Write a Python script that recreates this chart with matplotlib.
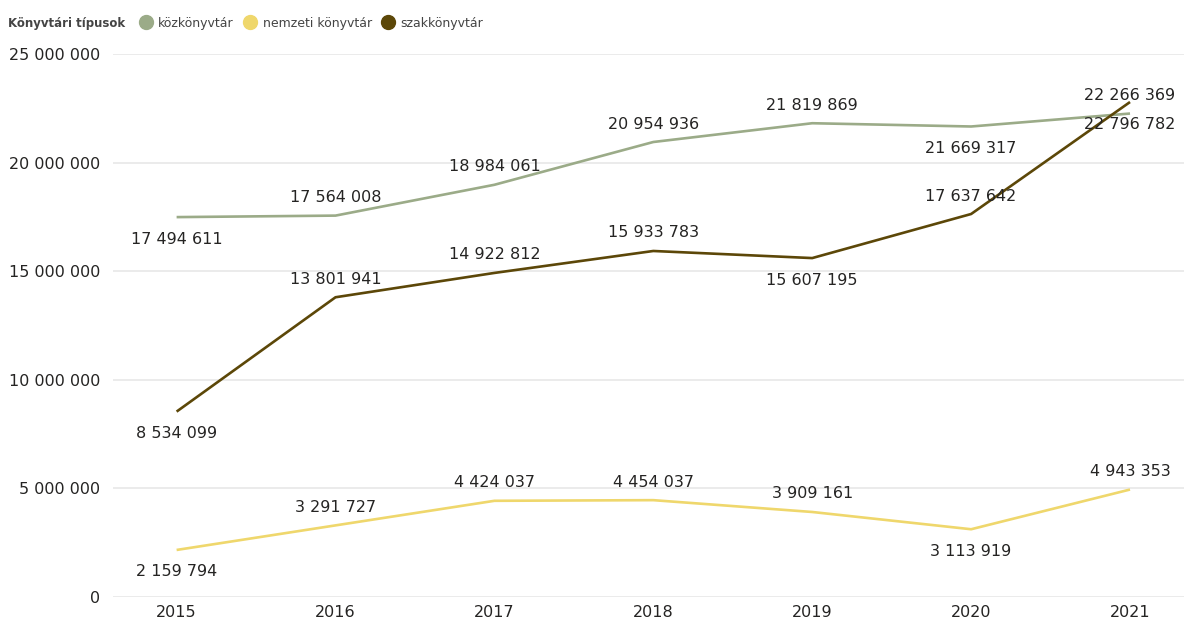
import matplotlib
matplotlib.use("Agg")
import matplotlib.pyplot as plt
from matplotlib.lines import Line2D
from matplotlib.ticker import FuncFormatter

# Data
YEARS = [2015, 2016, 2017, 2018, 2019, 2020, 2021]
KOZ = [17494611, 17564008, 18984061, 20954936, 21819869, 21669317, 22266369]
NEMZETI = [2159794, 3291727, 4424037, 4454037, 3909161, 3113919, 4943353]
SZAK = [8534099, 13801941, 14922812, 15933783, 15607195, 17637642, 22796782]

# label above (1) or below (-1) the point
KOZ_POS = [-1, 1, 1, 1, 1, -1, 1]
NEMZETI_POS = [-1, 1, 1, 1, 1, -1, 1]
SZAK_POS = [-1, 1, 1, 1, -1, 1, -1]

SERIES = [
    ("közkönyvtár", KOZ, KOZ_POS, "#9BAB88"),
    ("nemzeti könyvtár", NEMZETI, NEMZETI_POS, "#EFD76C"),
    ("szakkönyvtár", SZAK, SZAK_POS, "#5C4708"),
]

TEXT = "#252423"
plt.rcParams["font.family"] = ["DejaVu Sans"]


def fmt(v):
    return f"{int(v):,}".replace(",", " ")


fig = plt.figure(figsize=(11.9, 6.23), dpi=100)
ax = fig.add_axes([0.095, 0.042, 0.9, 0.871])

for name, vals, pos, color in SERIES:
    ax.plot(YEARS, vals, color=color, linewidth=1.9, solid_capstyle="butt")
    for x, y, p in zip(YEARS, vals, pos):
        ax.annotate(fmt(y), (x, y), xytext=(0, 18 * p + (-4 if p < 0 else 0)),
                    textcoords="offset pixels", ha="center", va="center",
                    fontsize=11.5, color=TEXT)

ax.set_ylim(0, 25000000)
ax.set_xlim(2014.6, 2021.34)
ax.set_yticks(range(0, 25000001, 5000000))
ax.yaxis.set_major_formatter(FuncFormatter(lambda v, _: fmt(v)))
ax.set_xticks(YEARS)
ax.tick_params(axis="both", length=0, labelsize=11.5, labelcolor=TEXT)
ax.tick_params(axis="y", pad=9)
ax.tick_params(axis="x", pad=6)
ax.grid(axis="y", color="#E8E8E8", linewidth=1.2)
ax.set_axisbelow(True)
for s in ax.spines.values():
    s.set_visible(False)

# legend
fig.text(0.007, 0.963, "Könyvtári típusok", fontsize=8.5, fontweight="bold",
         color="#444444", va="center", ha="left")
handles = [Line2D([], [], marker="o", linestyle="none", markersize=10,
                  markerfacecolor=c, markeredgecolor=c) for _, _, _, c in SERIES]
fig.legend(handles, [s[0] for s in SERIES], loc="center left",
           bbox_to_anchor=(0.112, 0.963), ncol=3, frameon=False, fontsize=9,
           handletextpad=0.0, columnspacing=0.3, labelcolor="#444444",
           borderaxespad=0, borderpad=0)

fig.savefig("out.png", dpi=100)
